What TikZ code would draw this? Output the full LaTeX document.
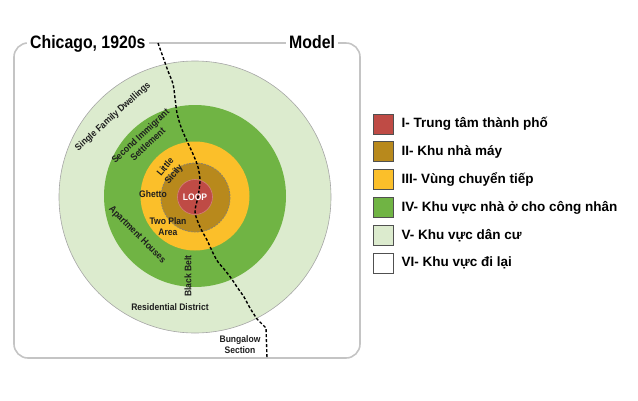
\documentclass[tikz,border=0pt]{standalone}
\usepackage{fontspec}
\setmainfont{Liberation Sans}
\newfontfamily\narrowfont[FakeStretch=0.9]{Liberation Sans}
\newfontfamily\titlefont[FakeStretch=0.88]{Liberation Sans}
\usetikzlibrary{positioning}
\definecolor{zoneI}{HTML}{BF4B45}
\definecolor{zoneII}{HTML}{B8891C}
\definecolor{zoneIII}{HTML}{FBBF2A}
\definecolor{zoneIV}{HTML}{70B444}
\definecolor{zoneV}{HTML}{DCEBCE}
\definecolor{framegrey}{HTML}{C4C4C4}
\definecolor{labeltext}{HTML}{1E1E1E}
\definecolor{boxline}{HTML}{505050}
\tikzset{
  frame/.style={draw=framegrey, line width=1.6pt, rounded corners=14pt},
  boundary/.style={draw=black, line width=1.4pt, dash pattern=on 3pt off 2pt},
  titletext/.style={font=\titlefont\bfseries\fontsize{18}{20}\selectfont, fill=white, inner xsep=3pt, inner ysep=1pt, anchor=base west},
  zonelabel/.style={font=\narrowfont\bfseries\fontsize{9.5}{11}\selectfont, text=labeltext, inner sep=0pt, align=center},
  legendbox/.style={draw=boxline, line width=0.8pt, minimum size=20pt, inner sep=0pt},
  legendtext/.style={font=\bfseries\fontsize{13.5}{15}\selectfont, inner sep=0pt}
}
\begin{document}
\begin{tikzpicture}[x=1pt,y=-1pt]
\useasboundingbox (0,0) rectangle (638,400);
% frame and title
\draw[frame] (14,43) rectangle (360,358);
\node[titletext] (title) at (27,48) {Chicago, 1920s};
\node[titletext] (model) at (286,48) {Model};
% zones
\filldraw[fill=zoneV, draw=gray!70, line width=0.6pt] (195,197) circle[radius=136];
\fill[zoneIV] (195,196) circle[radius=91];
\fill[zoneIII] (195,196) circle[radius=54.5];
\filldraw[fill=zoneII, draw=gray!80!zoneII, line width=0.8pt, dash pattern=on 2pt off 1pt] (195.5,197.5) circle[radius=34.5];
\filldraw[fill=zoneI, draw=zoneI!70!white, line width=0.6pt] (195,197) circle[radius=17.5];
% dividing line
\draw[boundary] plot[smooth] coordinates {(158,43) (163,57) (168,71) (173,84) (175,98) (177,113) (181,127) (187,141) (193,154) (198,167) (200,181) (198,197) (195,212) (200,227) (207,240) (213,253) (218,262) (224,269) (231,278) (237,287) (244,297) (250,308) (257,319)} -- (266,328) -- (267,358);
% labels
\node[zonelabel, rotate=42] (single) at (113,117) {Single Family Dwellings};
\node[zonelabel, rotate=43] (second) at (144,140) {Second Immigrant\\Settlement};
\node[zonelabel, rotate=50] (sicily) at (170,171) {Little\\Sicily};
\node[zonelabel] (ghetto) at (153,194) {Ghetto};
\node[zonelabel, text=white] (loop) at (195,197) {LOOP};
\node[zonelabel] (twoplan) at (168,227) {Two Plan\\Area};
\node[zonelabel, rotate=-45] (apartment) at (137,235) {Apartment Houses};
\node[zonelabel, rotate=90] (blackbelt) at (188,276) {Black Belt};
\node[zonelabel] (residential) at (170,307) {Residential District};
\node[zonelabel] (bungalow) at (240,345) {Bungalow\\Section};
% legend
\node[legendbox, fill=zoneI] (box1) at (383,124) {};
\node[legendbox, fill=zoneII, below=7pt of box1] (box2) {};
\node[legendbox, fill=zoneIII, below=7pt of box2] (box3) {};
\node[legendbox, fill=zoneIV, below=7pt of box3] (box4) {};
\node[legendbox, fill=zoneV, below=7pt of box4] (box5) {};
\node[legendbox, fill=white, below=7pt of box5] (box6) {};
\node[legendtext, right=8pt of box1] (key1) {I- Trung tâm thành phố};
\node[legendtext, right=8pt of box2] (key2) {II- Khu nhà máy};
\node[legendtext, right=8pt of box3] (key3) {III- Vùng chuyển tiếp};
\node[legendtext, right=8pt of box4] (key4) {IV- Khu vực nhà ở cho công nhân};
\node[legendtext, right=8pt of box5] (key5) {V- Khu vực dân cư};
\node[legendtext, right=8pt of box6] (key6) {VI- Khu vực đi lại};
\end{tikzpicture}
\end{document}
